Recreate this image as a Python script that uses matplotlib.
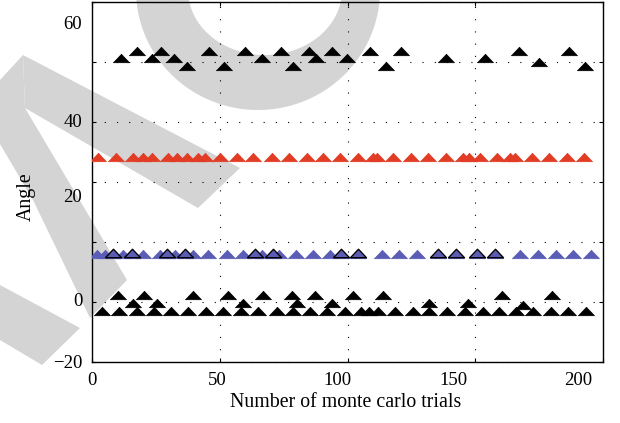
import numpy as np
import matplotlib.pyplot as plt
from matplotlib.path import Path
from matplotlib.patches import PathPatch

# Estimated angles from each trial (four sources)
trials_top = [11.2, 17.5, 23.4, 27.0, 32.1, 37.1, 45.9, 51.7, 60.0, 66.7, 73.9, 78.8, 85.0,
              87.7, 94.1, 99.8, 108.8, 115.1, 120.8, 138.6, 153.8, 167.2, 175.1, 186.8, 193.1]
angle_top = [52.6, 54.1, 52.6, 54.1, 52.6, 50.7, 54.1, 50.7, 54.1, 52.6, 54.1, 50.7, 54.1,
             52.6, 54.1, 52.6, 54.1, 50.7, 54.1, 52.6, 52.6, 54.1, 51.6, 54.1, 50.7]

trials_red = [2.5, 9.4, 16.2, 20.1, 23.4, 29.9, 33.2, 37.1, 41.6, 44.2, 50.1, 56.6, 63.1,
              70.3, 77.1, 84.0, 90.5, 97.1, 104.2, 110.1, 111.4, 117.9, 124.7, 131.6, 138.6,
              145.3, 147.7, 151.9, 158.4, 163.6, 165.6, 172.1, 179.0, 185.8, 192.6]
angle_red = [30.5, 30.5, 30.5, 30.5, 30.5, 30.5, 30.5, 30.5, 30.5, 30.5, 30.5, 30.5, 30.5,
             30.5, 30.5, 30.5, 30.5, 30.5, 30.5, 30.5, 30.5, 30.5, 30.5, 30.5, 30.5,
             30.5, 30.5, 30.5, 30.5, 30.5, 30.5, 30.5, 30.5, 30.5, 30.5]

trials_blue = [2.0, 5.1, 8.3, 12.3, 15.5, 20.1, 26.6, 29.2, 32.5, 36.4, 39.6, 45.5, 52.7,
               59.2, 63.8, 66.4, 70.7, 73.3, 79.8, 86.6, 93.2, 97.3, 104.2, 113.4, 120.3,
               127.1, 135.5, 142.5, 150.6, 157.7, 167.5, 174.7, 181.6, 188.4, 195.2]
angle_blue = [9.0, 9.0, 9.0, 9.0, 9.0, 9.0, 9.0, 9.0, 9.0, 9.0, 9.0, 9.0, 9.0,
              9.0, 9.0, 9.0, 9.0, 9.0, 9.0, 9.0, 9.0, 9.0, 9.0, 9.0, 9.0,
              9.0, 9.0, 9.0, 9.0, 9.0, 9.0, 9.0, 9.0, 9.0, 9.0]

trials_open = [8.3, 15.5, 29.2, 36.4, 63.8, 70.7, 97.3, 104.2, 135.5, 142.5, 150.6, 157.7]
angle_open = [9.3, 9.3, 9.3, 9.3, 9.3, 9.3, 9.3, 9.3, 9.3, 9.3, 9.3, 9.3]

trials_low = [3.8, 10.7, 17.5, 24.3, 30.8, 37.7, 44.6, 51.4, 58.2, 65.1, 72.3, 78.8, 85.3,
              91.9, 99.0, 105.2, 108.5, 112.1, 118.6, 125.5, 132.0, 138.8, 146.0, 152.9,
              159.4, 166.0, 172.7, 179.6, 186.4, 193.3,
              10.3, 20.4, 39.4, 53.3, 67.0, 78.3, 87.3, 102.0, 114.0, 160.4, 179.9,
              16.2, 25.3, 59.2, 80.2, 93.8, 132.0, 147.0, 168.7]
angle_low = [-3.6, -3.6, -3.6, -3.6, -3.6, -3.6, -3.6, -3.6, -3.6, -3.6, -3.6, -3.6, -3.6,
             -3.6, -3.6, -3.6, -3.6, -3.6, -3.6, -3.6, -3.6, -3.6, -3.6, -3.6,
             -3.6, -3.6, -3.6, -3.6, -3.6, -3.6,
             -0.1, -0.1, -0.1, -0.1, -0.1, -0.1, -0.1, -0.1, -0.1, -0.1, -0.1,
             -1.8, -1.8, -1.8, -1.8, -1.8, -1.8, -1.8, -2.3]

xtick_labels = ['0', '50', '100', '150', '200']
ytick_labels = ['60', '40', '20', '0', '\u221220']

plt.rcParams['font.family'] = ['Liberation Serif', 'DejaVu Serif']

W, H = 620, 423
fig = plt.figure(figsize=(W / 100, H / 100), dpi=100)
fig.patch.set_facecolor('white')


def px(points):
    # pixel coords (origin top-left) -> figure fraction
    p = np.asarray(points, dtype=float)
    return np.column_stack([p[:, 0] / W, 1 - p[:, 1] / H])


def ellipse(cx, cy, a, b, reverse=False):
    t = np.linspace(0, 2 * np.pi, 200)
    if reverse:
        t = t[::-1]
    return np.column_stack([cx + a * np.cos(t), cy + b * np.sin(t)])


# grey background stamp
grey = '#d4d4d4'
shapes = [
    [(23, 55), (240, 168), (198, 208), (25, 108)],
    [(23, 55), (25, 108), (127, 280), (90, 318), (33, 200), (0, 144), (0, 80)],
    [(0, 285), (80, 328), (42, 365), (0, 340)],
]
for s in shapes:
    verts = px(s)
    codes = [Path.MOVETO] + [Path.LINETO] * (len(s) - 1)
    fig.add_artist(PathPatch(Path(verts, codes), transform=fig.transFigure,
                             facecolor=grey, edgecolor='none', zorder=-1))
outer = px(ellipse(258, -10, 122, 120))
inner = px(ellipse(265, -10, 77, 65, reverse=True))
ring = Path(np.vstack([outer, inner]),
            [Path.MOVETO] + [Path.LINETO] * (len(outer) - 1) +
            [Path.MOVETO] + [Path.LINETO] * (len(inner) - 1))
fig.add_artist(PathPatch(ring, transform=fig.transFigure,
                         facecolor=grey, edgecolor='none', zorder=-1))

ax = fig.add_axes([92 / W, 1 - 362 / H, 511 / W, 360 / H])
ax.set_facecolor('none')

tri = [(-1, -0.53), (1, -0.53), (0, 0.53), (-1, -0.53)]
ms = 11.5

ax.plot(trials_red, angle_red, linestyle='none', marker=tri, markersize=ms,
        color='#e23c25', markeredgewidth=0.5, zorder=3)
ax.plot(trials_blue, angle_blue, linestyle='none', marker=tri, markersize=ms,
        color='#5a5cb6', markeredgewidth=0.5, zorder=3)
ax.plot(trials_open, angle_open, linestyle='none', marker=tri, markersize=ms,
        markerfacecolor='none', markeredgecolor='black', markeredgewidth=1.0, zorder=4)
ax.plot(trials_top, angle_top, linestyle='none', marker=tri, markersize=ms,
        color='black', markeredgewidth=0.5, zorder=5)
ax.plot(trials_low, angle_low, linestyle='none', marker=tri, markersize=ms,
        color='black', markeredgewidth=0.5, zorder=5)

ax.set_xlim(0, 200)
ax.set_ylim(-15, 65)

# dotted grid on the major ticks, labels carried by minor ticks
ax.set_xticks([0, 50, 100, 150, 200])
ax.set_yticks(np.linspace(-15, 65, 7))
ax.set_xticks([0.05, 48.9, 95.9, 141.3, 190.2], xtick_labels, minor=True)
ax.set_yticks([60.4, 38.6, 21.9, -1.2, -14.9], ytick_labels, minor=True)
ax.tick_params(which='major', direction='in', length=3, width=0.8,
               labelbottom=False, labelleft=False, top=True, right=True)
ax.tick_params(which='minor', length=0, pad=7, labelsize=13.5)
ax.grid(True, which='major', color='black', linestyle=(0, (1, 10)), linewidth=0.8)
for sp in ax.spines.values():
    sp.set_linewidth(1.0)

ax.set_xlabel('Number of monte carlo trials', fontsize=14.3)
ax.xaxis.set_label_coords((346 - 92) / 511, (362 - 393) / 360)
ax.set_ylabel('Angle', fontsize=14.3, va='center')
ax.yaxis.set_label_coords((26 - 92) / 511, (362 - 197) / 360)

fig.savefig('out.png', dpi=100)
